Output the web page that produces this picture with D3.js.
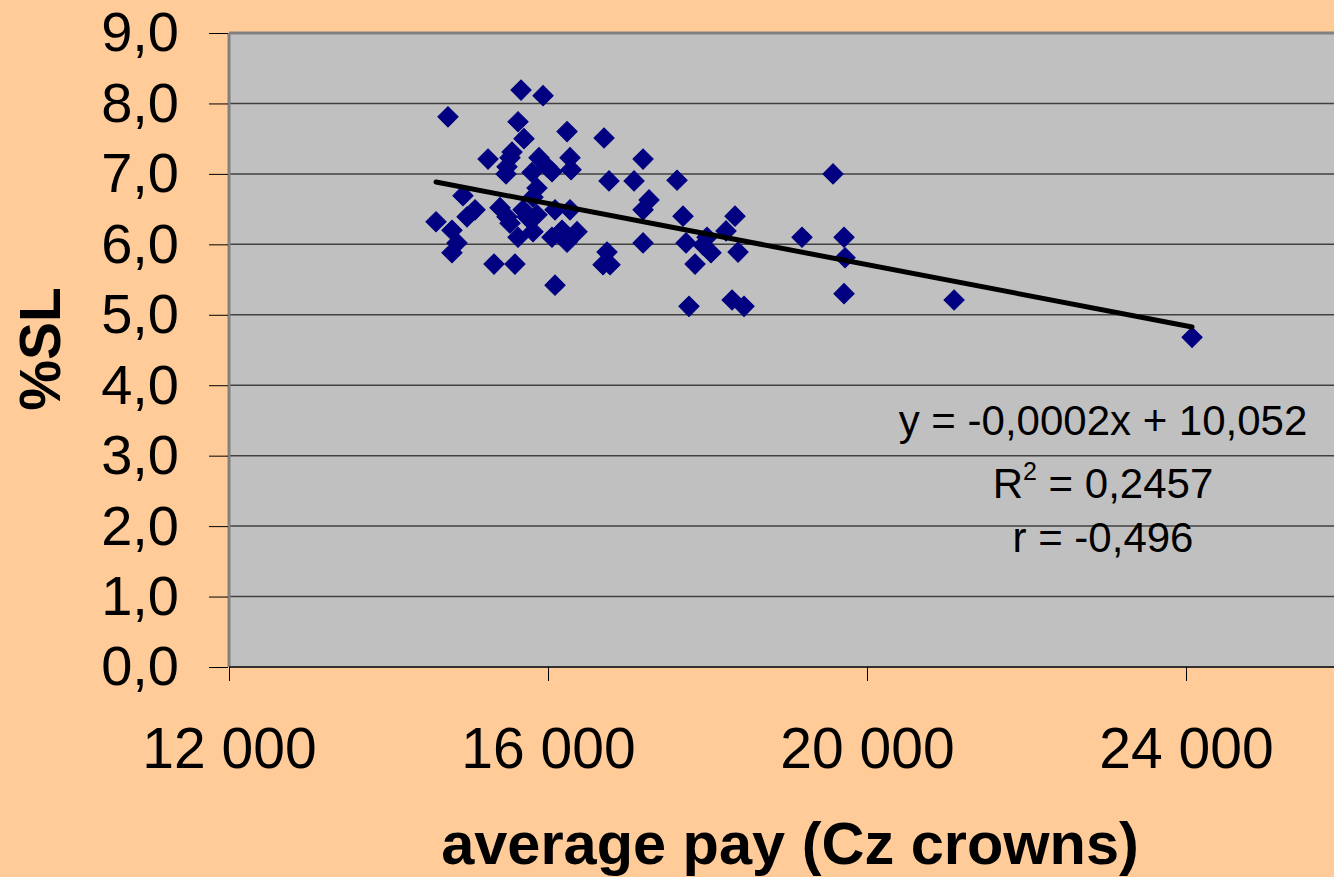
<!DOCTYPE html>
<html>
<head>
<meta charset="utf-8">
<script src="https://cdn.jsdelivr.net/npm/d3@7"></script>
<style>
  html, body { margin: 0; padding: 0; background: #ffcc99; overflow: hidden; }
  text { font-family: "Liberation Sans", Arial, sans-serif; }
</style>
</head>
<body>
<div id="chart"></div>
<script>
// average pay (Cz crowns) vs %SL
const pay = [
  14746, 15662, 15938, 15624, 15699, 16239, 16703, 17192, 15248, 15549,
  15524, 15486, 15474, 15887, 15988, 16050, 16276, 16289, 15800, 16765,
  17079, 17618, 15862, 15812, 14934, 17267, 17192, 15085, 14985, 15398,
  15486, 15524, 15687, 15737, 15862, 16088, 16276, 14596, 14796, 14859,
  14796, 15624, 15812, 16050, 16176, 16239, 16364, 16740, 16690, 16778,
  17192, 15323, 15586, 16088, 19574, 19185, 19712, 19725, 19712, 18345,
  18232, 17994, 17944, 18044, 18383, 17693, 17731, 17844, 17768, 18308,
  18458, 21092, 24076
]
const sl = [
  7.81, 8.19, 8.11, 7.74, 7.50, 7.60, 7.51, 7.21, 7.21, 7.31,
  7.23, 7.10, 7.00, 7.23, 7.10, 7.03, 7.23, 7.06, 7.02, 6.90,
  6.90, 6.91, 6.80, 6.67, 6.69, 6.63, 6.49, 6.49, 6.39, 6.52,
  6.39, 6.30, 6.49, 6.39, 6.42, 6.49, 6.49, 6.32, 6.20, 6.02,
  5.88, 6.10, 6.18, 6.10, 6.20, 6.03, 6.18, 5.89, 5.71, 5.71,
  6.02, 5.72, 5.72, 5.42, 7.00, 6.10, 6.10, 5.81, 5.30, 6.40,
  6.19, 6.10, 5.99, 5.88, 5.89, 6.40, 6.02, 5.72, 5.12, 5.21,
  5.12, 5.21, 4.68
]

const xTicks = [12000, 16000, 20000, 24000]
const yTicks = [0, 1, 2, 3, 4, 5, 6, 7, 8, 9]

// linear trend as drawn in the chart
const trendSlope = -0.000217
const trendIntercept = 10.052
const trendLabels = ["y = -0,0002x + 10,052", "= 0,2457", "r = -0,496"]

const width = 1334
const height = 877

const svg = d3.select("#chart").append("svg").attr("width", width).attr("height", height)

const x = d3.scaleLinear().domain([12000, 26000]).range([229, 1345.5])
const y = d3.scaleLinear().domain([0, 9]).range([667, 33])

// plot area
svg.append("rect")
  .attr("x", x(12000)).attr("y", y(9))
  .attr("width", x(26000) - x(12000)).attr("height", y(0) - y(9))
  .attr("fill", "#c0c0c0")

// gridlines
svg.append("g")
  .selectAll("line")
  .data(yTicks.slice(1))
  .enter()
  .append("line")
  .attr("x1", x(12000)).attr("x2", x(26000))
  .attr("y1", (d) => y(d)).attr("y2", (d) => y(d))
  .attr("stroke", (d) => (d === 9 ? "#808080" : "#404040"))
  .attr("stroke-width", (d) => (d === 9 ? 3 : 1.5))

// left border of plot area
svg.append("line")
  .attr("x1", x(12000)).attr("x2", x(12000))
  .attr("y1", y(9)).attr("y2", y(0))
  .attr("stroke", "#808080").attr("stroke-width", 3)

// y axis
const yAxis = svg.append("g")
  .attr("transform", `translate(${x(12000) - 1},0)`)
  .call(d3.axisLeft(y).tickValues(yTicks).tickSize(19).tickPadding(30)
    .tickFormat((d) => d.toFixed(1).replace(".", ",")))
yAxis.select(".domain").remove()
yAxis.selectAll("line").attr("stroke", "#000")
yAxis.selectAll("text").attr("font-size", 56).attr("fill", "#000")
  .attr("font-family", "Liberation Sans, Arial, sans-serif")

// x axis
const xAxis = svg.append("g")
  .attr("transform", `translate(0,${y(0)})`)
  .call(d3.axisBottom(x).tickValues(xTicks).tickSize(14).tickPadding(47)
    .tickFormat((d) => d3.format(",")(d).replace(",", " ")))
xAxis.select(".domain").attr("stroke", "#303030").attr("stroke-width", 2)
  .attr("d", `M${x(12000)},0H${x(26000)}`)
xAxis.selectAll("line").attr("stroke", "#000")
xAxis.selectAll("text").attr("font-size", 57).attr("fill", "#000")
  .attr("font-family", "Liberation Sans, Arial, sans-serif")

// points
const diamond = d3.symbol().type(d3.symbolSquare).size(205)
svg.append("g")
  .selectAll("path")
  .data(pay.map((p, i) => ({ p, s: sl[i] })))
  .enter()
  .append("path")
  .attr("d", diamond)
  .attr("transform", (d) => `translate(${x(d.p)},${y(d.s)}) rotate(45)`)
  .attr("fill", "#000080")
  .attr("stroke", "#000080")
  .attr("stroke-width", 1)

// trend line
const x0 = d3.min(pay)
const x1 = d3.max(pay)
svg.append("line")
  .attr("x1", x(x0)).attr("y1", y(trendSlope * x0 + trendIntercept))
  .attr("x2", x(x1)).attr("y2", y(trendSlope * x1 + trendIntercept))
  .attr("stroke", "#000").attr("stroke-width", 5).attr("stroke-linecap", "round")

// trend labels
const lab = svg.append("g").attr("font-size", 42).attr("fill", "#000").attr("text-anchor", "middle")
lab.append("text").attr("x", 1103).attr("y", 435).text(trendLabels[0])
const r2 = lab.append("text").attr("x", 1103).attr("y", 498)
r2.append("tspan").text("R")
r2.append("tspan").attr("font-size", 25).attr("dy", -18).text("2")
r2.append("tspan").attr("dy", 18).text(" " + trendLabels[1])
lab.append("text").attr("x", 1103).attr("y", 552).text(trendLabels[2])

// axis titles
svg.append("text")
  .attr("x", 790).attr("y", 864)
  .attr("text-anchor", "middle")
  .attr("font-size", 59.5).attr("font-weight", "bold")
  .text("average pay (Cz crowns)")

svg.append("text")
  .attr("transform", "translate(60,349) rotate(-90)")
  .attr("text-anchor", "middle")
  .attr("font-size", 57).attr("font-weight", "bold")
  .text("%SL")
</script>
</body>
</html>
